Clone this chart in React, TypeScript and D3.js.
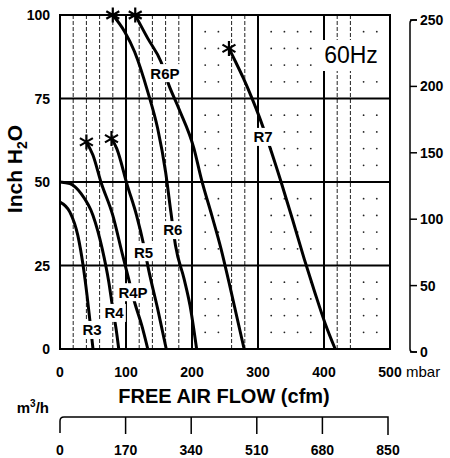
import React from "react";
import * as d3 from "d3";

const xTicks = [0, 100, 200, 300, 400, 500];
const yTicks = [0, 25, 50, 75, 100];
const mbarTicks = [0, 50, 100, 150, 200, 250];
const m3hTicks = [0, 170, 340, 510, 680, 850];
const boldX = [100, 200, 300, 400];
const boldY = [25, 50, 75];
const minorLeftX = [20, 40, 60, 80, 120, 140, 160, 180];
const minorRightX = [260, 280, 420, 440];
const dotX = [220, 240, 320, 340, 360, 380, 460, 480];
const dotY = [5, 10, 15, 20, 30, 35, 40, 45, 55, 60, 65, 70, 80, 85, 90, 95];

const r3: [number, number][] = [[0, 44], [15, 41], [27, 34], [35, 25], [41, 16], [45, 9], [50, 0]];
const r4: [number, number][] = [[0, 50], [15, 49.5], [32, 46.5], [50, 40], [64, 30], [74, 20], [80, 12], [85, 6], [89, 0]];
const r4p: [number, number][] = [[40, 62], [50, 58], [62, 50], [80, 40], [95, 28], [104, 21], [113, 14], [124, 7], [133, 0]];
const r5: [number, number][] = [[78, 63], [86, 60], [102, 49], [116, 40], [127, 31], [134, 24], [148, 12], [161, 0]];
const r6: [number, number][] = [[80, 100], [98, 95], [113, 89], [133, 77], [148, 66], [160, 53], [168, 41], [175, 31], [188, 21], [197, 13], [207, 0]];
const r6p: [number, number][] = [[114, 100], [133, 93], [153, 86], [165, 79], [180, 72], [203, 60], [214, 51], [230, 40], [244, 30], [256, 20], [279, 0]];
const r7: [number, number][] = [[256, 90], [266, 86], [278, 81], [290, 75.5], [302, 69.5], [317, 61], [335, 50], [352, 39], [370, 27], [386, 17], [402, 7.5], [417, 0]];

const curveNames = ["R3", "R4", "R4P", "R5", "R6", "R6P", "R7"];
const curveData = [r3, r4, r4p, r5, r6, r6p, r7];
const labelPos: [number, number][] = [[48.5, 5.7], [82, 10.8], [110.6, 17], [126.5, 29], [171, 35.6], [159, 82.6], [307.6, 63.5]];
const hasStar = [false, false, true, true, true, true, true];

const FONT = "'Liberation Sans', Arial, Helvetica, sans-serif";

export default function App() {
  const x = d3.scaleLinear().domain([0, 500]).range([60, 390]);
  const y = d3.scaleLinear().domain([0, 100]).range([349, 15]);
  const mbar = d3.scaleLinear().domain([0, 250]).range([352, 20]);
  const m3h = d3.scaleLinear().domain([0, 850]).range([60, 388]);
  const line = d3
    .line<[number, number]>()
    .x((d) => x(d[0]))
    .y((d) => y(d[1]))
    .curve(d3.curveMonotoneX);

  const star = (cx: number, cy: number, r: number) => {
    let p = "";
    for (const a of [90, 30, 150]) {
      const rad = (a * Math.PI) / 180;
      const dx = r * Math.cos(rad);
      const dy = r * Math.sin(rad);
      p += `M${cx - dx},${cy - dy}L${cx + dx},${cy + dy}`;
    }
    return p;
  };

  const [x0, x1] = x.range();
  const [y0, y1] = y.range();

  return (
    <svg
      width={450}
      height={458}
      style={{ position: "absolute", left: 0, top: 0, background: "#fff" }}
      fontFamily={FONT}
    >
      <rect x={0} y={0} width={450} height={458} fill="#fff" />
      {minorLeftX.concat(minorRightX).map((v) => (
        <line key={"mx" + v} x1={x(v)} x2={x(v)} y1={y1} y2={y0} stroke="#222" strokeWidth={1} strokeDasharray="4,2" />
      ))}
      {dotX.map((vx) =>
        dotY.map((vy) => <circle key={`d${vx}-${vy}`} cx={x(vx)} cy={y(vy)} r={0.9} fill="#222" />)
      )}
      {boldX.map((v) => (
        <line key={"bx" + v} x1={x(v)} x2={x(v)} y1={y1} y2={y0} stroke="#000" strokeWidth={2} />
      ))}
      {boldY.map((v) => (
        <line key={"by" + v} x1={x0} x2={x1} y1={y(v)} y2={y(v)} stroke="#000" strokeWidth={2} />
      ))}
      <rect x={x0} y={y1} width={x1 - x0} height={y0 - y1} fill="none" stroke="#000" strokeWidth={2} />

      {curveData.map((d, i) => (
        <path key={"c" + i} d={line(d) || ""} fill="none" stroke="#000" strokeWidth={3} />
      ))}
      {curveNames.map((n, i) => {
        const w = n.length * 9.7 + 4;
        const cx = x(labelPos[i][0]);
        const cy = y(labelPos[i][1]);
        return (
          <g key={"l" + n}>
            <rect x={cx - w / 2} y={cy - 9} width={w} height={18} fill="#fff" />
            <text x={cx} y={cy} dy="0.36em" textAnchor="middle" fontSize={15} fontWeight="bold" fill="#000">
              {n}
            </text>
          </g>
        );
      })}
      {curveData.map((d, i) =>
        hasStar[i] ? (
          <path key={"s" + i} d={star(x(d[0][0]), y(d[0][1]), 7.5)} stroke="#000" strokeWidth={2.2} fill="none" />
        ) : null
      )}

      <rect x={318} y={40} width={66} height={31} fill="#fff" />
      <text x={351} y={63} textAnchor="middle" fontSize={23} fill="#000">
        60Hz
      </text>

      {yTicks.map((v) => (
        <text key={"yt" + v} x={50} y={y(v)} dy="0.36em" textAnchor="end" fontSize={14} fontWeight="bold">
          {v}
        </text>
      ))}
      {xTicks.map((v) => (
        <text key={"xt" + v} x={x(v)} y={377} textAnchor="middle" fontSize={14} fontWeight="bold">
          {v}
        </text>
      ))}
      <text x={406} y={377} fontSize={15}>
        mbar
      </text>
      <path d={`M417,${mbar(250)}L413,${mbar(250)}Q410,${mbar(250)} 410,${mbar(250) + 3}L410,${mbar(0) - 3}Q410,${mbar(0)} 413,${mbar(0)}L417,${mbar(0)}`} fill="none" stroke="#000" strokeWidth={1.5} />
      {mbarTicks.map((v) => (
        <g key={"mb" + v}>
          <line x1={410} x2={417} y1={mbar(v)} y2={mbar(v)} stroke="#000" strokeWidth={1.5} />
          <text x={420} y={mbar(v)} dy="0.36em" fontSize={14} fontWeight="bold">
            {v}
          </text>
        </g>
      ))}
      <text x={224} y={403} textAnchor="middle" fontSize={20} fontWeight="bold">
        FREE AIR FLOW (cfm)
      </text>
      <text transform="translate(22,169) rotate(-90)" textAnchor="middle" fontSize={21} fontWeight="bold">
        Inch H<tspan fontSize={14} dy={5}>2</tspan>
        <tspan dy={-5}>O</tspan>
      </text>
      <path d={`M${m3h(0)},433L${m3h(0)},421Q${m3h(0)},417 ${m3h(0) + 4},417L${m3h(850)},417L${m3h(850)},435`} fill="none" stroke="#000" strokeWidth={1.5} />
      {m3hTicks.slice(1, -1).map((v) => (
        <line key={"mt" + v} x1={m3h(v)} x2={m3h(v)} y1={417} y2={434} stroke="#000" strokeWidth={1.5} />
      ))}
      {m3hTicks.map((v) => (
        <text key={"ml" + v} x={m3h(v)} y={455} textAnchor="middle" fontSize={14} fontWeight="bold">
          {v}
        </text>
      ))}
      <text x={49} y={413} textAnchor="end" fontSize={15} fontWeight="bold">
        m<tspan fontSize={10} dy={-6}>3</tspan>
        <tspan dy={6}>/h</tspan>
      </text>
    </svg>
  );
}
